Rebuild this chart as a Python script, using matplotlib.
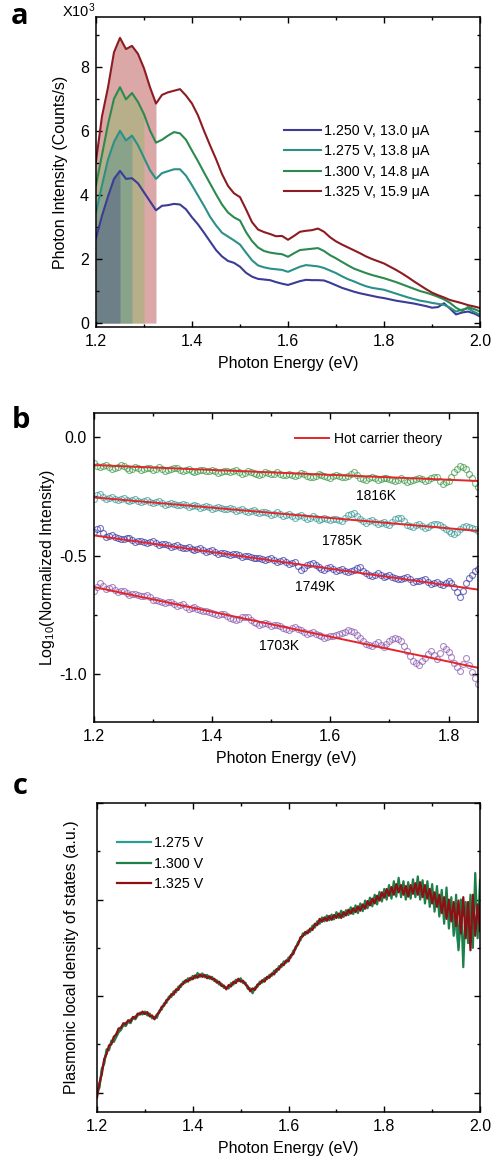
import numpy as np
import matplotlib.pyplot as plt
from matplotlib.ticker import MultipleLocator

plt.rcParams['font.family'] = ['Liberation Sans', 'DejaVu Sans']
plt.rcParams['axes.unicode_minus'] = False
plt.rcParams['mathtext.default'] = 'regular'

# ---------------- panel a: emission spectra ----------------
energy_a = np.linspace(1.2, 2.0, 65)
bias_labels = ['1.250 V, 13.0 \u03bcA', '1.275 V, 13.8 \u03bcA', '1.300 V, 14.8 \u03bcA', '1.325 V, 15.9 \u03bcA']
bias_volts = [1.250, 1.275, 1.300, 1.325]
int_1250 = [2.65, 3.35, 3.95, 4.50, 4.75, 4.50, 4.52, 4.36, 4.08, 3.80, 3.52, 3.66, 3.68, 3.72, 3.70, 3.55,
            3.30, 3.08, 2.82, 2.55, 2.28, 2.08, 1.94, 1.88, 1.76, 1.57, 1.45, 1.38, 1.36, 1.34, 1.28, 1.23,
            1.19, 1.25, 1.31, 1.35, 1.34, 1.34, 1.33, 1.26, 1.18, 1.10, 1.04, 0.98, 0.93, 0.89, 0.85, 0.81,
            0.78, 0.74, 0.70, 0.67, 0.64, 0.61, 0.57, 0.53, 0.48, 0.50, 0.62, 0.45, 0.27, 0.33, 0.36, 0.30, 0.21]
int_1275 = [3.45, 4.30, 5.10, 5.65, 6.00, 5.70, 5.85, 5.55, 5.16, 4.77, 4.50, 4.68, 4.74, 4.80, 4.80, 4.60,
            4.30, 3.98, 3.66, 3.32, 3.05, 2.82, 2.70, 2.58, 2.45, 2.20, 1.96, 1.80, 1.74, 1.70, 1.68, 1.66,
            1.60, 1.68, 1.76, 1.81, 1.79, 1.77, 1.72, 1.64, 1.56, 1.46, 1.37, 1.30, 1.22, 1.15, 1.10, 1.07,
            1.04, 0.98, 0.92, 0.86, 0.80, 0.75, 0.70, 0.67, 0.63, 0.60, 0.57, 0.48, 0.36, 0.42, 0.46, 0.35, 0.26]
int_1300 = [4.30, 5.25, 6.20, 7.00, 7.36, 6.98, 7.18, 6.90, 6.52, 6.01, 5.63, 5.72, 5.85, 5.96, 5.92, 5.72,
            5.38, 5.05, 4.70, 4.36, 4.02, 3.70, 3.45, 3.30, 3.20, 2.84, 2.56, 2.36, 2.25, 2.20, 2.17, 2.15,
            2.07, 2.18, 2.28, 2.30, 2.32, 2.34, 2.25, 2.12, 2.02, 1.91, 1.80, 1.70, 1.63, 1.56, 1.50, 1.45,
            1.40, 1.34, 1.28, 1.21, 1.14, 1.07, 1.00, 0.95, 0.89, 0.82, 0.74, 0.63, 0.48, 0.38, 0.50, 0.44, 0.36]
int_1325 = [5.05, 6.45, 7.35, 8.45, 8.90, 8.55, 8.65, 8.40, 7.95, 7.36, 6.85, 7.12, 7.20, 7.25, 7.30, 7.10,
            6.85, 6.48, 6.00, 5.55, 5.12, 4.65, 4.28, 4.05, 3.93, 3.55, 3.15, 2.92, 2.84, 2.78, 2.71, 2.72,
            2.60, 2.72, 2.85, 2.88, 2.90, 2.95, 2.85, 2.68, 2.55, 2.45, 2.36, 2.27, 2.18, 2.08, 2.00, 1.93,
            1.86, 1.76, 1.66, 1.55, 1.43, 1.30, 1.18, 1.06, 0.95, 0.87, 0.80, 0.72, 0.67, 0.62, 0.56, 0.52, 0.47]

# ---------------- panel b: log normalized intensity ----------------
energy_b = np.round(np.arange(1.2, 1.85001, 0.005), 3)
temps = ['1816K', '1785K', '1749K', '1703K']
log_1816 = [-0.110, -0.122, -0.128, -0.124, -0.118, -0.126, -0.135, -0.132, -0.128, -0.120, -0.122, -0.130,
            -0.138, -0.134, -0.126, -0.132, -0.140, -0.137, -0.130, -0.132, -0.138, -0.134, -0.128, -0.135,
            -0.142, -0.140, -0.135, -0.130, -0.130, -0.138, -0.144, -0.141, -0.136, -0.142, -0.148, -0.144,
            -0.138, -0.141, -0.146, -0.144, -0.140, -0.146, -0.152, -0.148, -0.142, -0.145, -0.150, -0.146,
            -0.140, -0.147, -0.155, -0.151, -0.145, -0.148, -0.152, -0.157, -0.160, -0.155, -0.148, -0.152,
            -0.158, -0.155, -0.150, -0.156, -0.162, -0.159, -0.155, -0.160, -0.165, -0.159, -0.152, -0.157,
            -0.163, -0.168, -0.170, -0.164, -0.158, -0.161, -0.165, -0.169, -0.172, -0.166, -0.160, -0.165,
            -0.170, -0.168, -0.165, -0.156, -0.150, -0.160, -0.172, -0.177, -0.180, -0.174, -0.168, -0.175,
            -0.182, -0.177, -0.172, -0.175, -0.178, -0.182, -0.185, -0.180, -0.175, -0.182, -0.190, -0.186,
            -0.182, -0.176, -0.172, -0.178, -0.185, -0.180, -0.175, -0.171, -0.168, -0.185, -0.198, -0.192,
            -0.185, -0.168, -0.150, -0.135, -0.125, -0.128, -0.135, -0.155, -0.175, -0.195, -0.210]
log_1785 = [-0.260, -0.245, -0.240, -0.252, -0.262, -0.259, -0.255, -0.262, -0.268, -0.263, -0.258, -0.264,
            -0.270, -0.266, -0.262, -0.269, -0.275, -0.271, -0.268, -0.274, -0.280, -0.276, -0.272, -0.279,
            -0.285, -0.283, -0.280, -0.284, -0.288, -0.285, -0.282, -0.289, -0.295, -0.291, -0.287, -0.293,
            -0.298, -0.295, -0.292, -0.297, -0.302, -0.299, -0.296, -0.301, -0.305, -0.303, -0.300, -0.306,
            -0.312, -0.308, -0.305, -0.312, -0.318, -0.314, -0.310, -0.315, -0.320, -0.318, -0.315, -0.322,
            -0.328, -0.323, -0.318, -0.325, -0.332, -0.328, -0.325, -0.333, -0.340, -0.335, -0.330, -0.338,
            -0.345, -0.340, -0.335, -0.343, -0.350, -0.345, -0.340, -0.346, -0.352, -0.348, -0.345, -0.350,
            -0.355, -0.342, -0.330, -0.324, -0.322, -0.332, -0.345, -0.355, -0.362, -0.356, -0.350, -0.360,
            -0.368, -0.364, -0.360, -0.366, -0.372, -0.358, -0.345, -0.340, -0.340, -0.355, -0.370, -0.376,
            -0.380, -0.372, -0.365, -0.376, -0.385, -0.378, -0.372, -0.368, -0.365, -0.372, -0.380, -0.388,
            -0.395, -0.403, -0.410, -0.400, -0.390, -0.380, -0.375, -0.378, -0.382, -0.388, -0.395]
log_1749 = [-0.400, -0.390, -0.385, -0.405, -0.420, -0.418, -0.415, -0.422, -0.428, -0.430, -0.432, -0.428,
            -0.425, -0.434, -0.442, -0.440, -0.438, -0.443, -0.448, -0.444, -0.440, -0.448, -0.455, -0.452,
            -0.450, -0.456, -0.462, -0.458, -0.455, -0.463, -0.470, -0.468, -0.465, -0.472, -0.478, -0.474,
            -0.470, -0.478, -0.485, -0.481, -0.478, -0.485, -0.492, -0.490, -0.488, -0.493, -0.498, -0.495,
            -0.492, -0.498, -0.505, -0.502, -0.500, -0.506, -0.512, -0.510, -0.508, -0.514, -0.520, -0.516,
            -0.512, -0.518, -0.525, -0.522, -0.520, -0.528, -0.535, -0.531, -0.528, -0.545, -0.560, -0.552,
            -0.540, -0.534, -0.530, -0.540, -0.550, -0.556, -0.560, -0.554, -0.548, -0.556, -0.565, -0.561,
            -0.558, -0.564, -0.570, -0.565, -0.560, -0.553, -0.550, -0.563, -0.575, -0.580, -0.585, -0.580,
            -0.575, -0.583, -0.590, -0.585, -0.580, -0.588, -0.595, -0.598, -0.600, -0.595, -0.590, -0.600,
            -0.610, -0.608, -0.605, -0.601, -0.598, -0.610, -0.620, -0.616, -0.612, -0.618, -0.625, -0.615,
            -0.605, -0.615, -0.630, -0.655, -0.675, -0.650, -0.615, -0.595, -0.580, -0.565, -0.555]
log_1703 = [-0.650, -0.630, -0.615, -0.628, -0.640, -0.636, -0.632, -0.645, -0.655, -0.651, -0.648, -0.657,
            -0.665, -0.662, -0.660, -0.666, -0.672, -0.668, -0.665, -0.676, -0.685, -0.688, -0.690, -0.695,
            -0.700, -0.697, -0.695, -0.704, -0.712, -0.708, -0.705, -0.716, -0.725, -0.721, -0.718, -0.723,
            -0.728, -0.732, -0.735, -0.739, -0.742, -0.745, -0.748, -0.746, -0.745, -0.754, -0.762, -0.766,
            -0.770, -0.765, -0.760, -0.759, -0.758, -0.769, -0.780, -0.785, -0.790, -0.786, -0.782, -0.789,
            -0.795, -0.792, -0.790, -0.798, -0.805, -0.809, -0.812, -0.806, -0.800, -0.808, -0.815, -0.822,
            -0.828, -0.825, -0.822, -0.829, -0.835, -0.840, -0.845, -0.843, -0.840, -0.838, -0.835, -0.830,
            -0.825, -0.820, -0.815, -0.816, -0.820, -0.832, -0.845, -0.858, -0.870, -0.875, -0.880, -0.872,
            -0.865, -0.875, -0.885, -0.873, -0.860, -0.852, -0.845, -0.850, -0.860, -0.880, -0.900, -0.922,
            -0.945, -0.953, -0.960, -0.945, -0.930, -0.915, -0.900, -0.918, -0.935, -0.908, -0.880, -0.892,
            -0.905, -0.928, -0.950, -0.968, -0.985, -0.958, -0.930, -0.960, -0.990, -1.015, -1.040]
fit_start = [-0.119, -0.255, -0.415, -0.632]
fit_end = [-0.186, -0.396, -0.643, -0.972]
label_pos = [(1.678, -0.248), (1.619, -0.440), (1.574, -0.632), (1.513, -0.881)]

# ---------------- panel c: plasmonic LDOS ----------------
energy_c = np.linspace(1.2, 2.0, 161)
ldos_1275 = [-0.05, 0.15, 0.45, 0.65, 0.85, 0.92, 1.05, 1.10, 1.22, 1.28, 1.36, 1.40, 1.45, 1.46, 1.52, 1.53,
             1.58, 1.61, 1.64, 1.65, 1.64, 1.63, 1.60, 1.57, 1.54, 1.58, 1.68, 1.75, 1.83, 1.89, 1.96, 2.01,
             2.07, 2.11, 2.17, 2.22, 2.27, 2.31, 2.34, 2.36, 2.38, 2.40, 2.42, 2.43, 2.43, 2.42, 2.40, 2.39,
             2.37, 2.34, 2.31, 2.27, 2.24, 2.20, 2.17, 2.20, 2.24, 2.28, 2.31, 2.33, 2.33, 2.30, 2.26, 2.19,
             2.13, 2.13, 2.16, 2.22, 2.27, 2.31, 2.34, 2.38, 2.41, 2.45, 2.49, 2.54, 2.59, 2.63, 2.68, 2.72,
             2.77, 2.84, 2.91, 3.01, 3.10, 3.19, 3.27, 3.31, 3.34, 3.37, 3.42, 3.47, 3.52, 3.56, 3.59, 3.60,
             3.61, 3.62, 3.63, 3.64, 3.66, 3.67, 3.68, 3.70, 3.72, 3.74, 3.76, 3.78, 3.80, 3.82, 3.84, 3.85,
             3.87, 3.90, 3.93, 3.95, 3.98, 4.00, 4.04, 4.07, 4.10, 4.13, 4.15, 4.17, 4.20, 4.22, 4.24, 4.22,
             4.21, 4.19, 4.18, 4.20, 4.22, 4.23, 4.24, 4.22, 4.20, 4.18, 4.15, 4.10, 4.06, 4.04, 4.00, 3.95,
             3.90, 3.88, 3.84, 3.80, 3.75, 3.60, 3.40, 3.00, 3.50, 3.80, 3.60, 3.70, 3.55, 3.75, 3.60, 3.70, 3.55]
ldos_1300 = [0.05, 0.10, 0.50, 0.60, 0.90, 0.88, 1.08, 1.05, 1.15, 1.25, 1.30, 1.40, 1.38, 1.47, 1.44, 1.55,
             1.52, 1.60, 1.66, 1.62, 1.68, 1.60, 1.64, 1.54, 1.57, 1.55, 1.70, 1.72, 1.85, 1.86, 1.99, 1.98,
             2.10, 2.08, 2.20, 2.19, 2.30, 2.28, 2.37, 2.33, 2.42, 2.37, 2.48, 2.40, 2.47, 2.39, 2.44, 2.36,
             2.40, 2.31, 2.33, 2.24, 2.26, 2.17, 2.18, 2.16, 2.27, 2.24, 2.34, 2.31, 2.37, 2.27, 2.28, 2.15,
             2.16, 2.06, 2.18, 2.19, 2.30, 2.28, 2.37, 2.35, 2.44, 2.42, 2.53, 2.50, 2.62, 2.60, 2.72, 2.69,
             2.80, 2.80, 2.94, 2.98, 3.12, 3.16, 3.30, 3.27, 3.36, 3.33, 3.46, 3.42, 3.55, 3.50, 3.63, 3.55,
             3.67, 3.57, 3.69, 3.59, 3.74, 3.62, 3.77, 3.64, 3.78, 3.68, 3.84, 3.70, 3.88, 3.72, 3.92, 3.76,
             3.98, 3.82, 4.04, 3.86, 4.10, 3.90, 4.16, 3.96, 4.22, 4.00, 4.30, 4.02, 4.38, 4.06, 4.45, 4.05,
             4.38, 4.00, 4.36, 4.02, 4.42, 4.05, 4.48, 4.00, 4.40, 3.92, 4.38, 3.85, 4.32, 3.75, 4.28, 3.65,
             4.20, 3.50, 4.25, 3.40, 4.05, 3.25, 4.10, 2.95, 4.00, 2.60, 3.95, 3.10, 4.10, 3.00, 4.55, 3.20, 4.40]
ldos_1325 = [-0.10, 0.20, 0.38, 0.70, 0.80, 0.98, 1.00, 1.16, 1.20, 1.33, 1.34, 1.44, 1.42, 1.50, 1.47, 1.57,
             1.55, 1.64, 1.62, 1.68, 1.63, 1.67, 1.58, 1.60, 1.52, 1.62, 1.66, 1.78, 1.80, 1.92, 1.94, 2.04,
             2.03, 2.14, 2.13, 2.24, 2.25, 2.33, 2.30, 2.38, 2.35, 2.43, 2.38, 2.45, 2.40, 2.44, 2.37, 2.41,
             2.35, 2.36, 2.28, 2.30, 2.21, 2.22, 2.14, 2.23, 2.20, 2.30, 2.27, 2.36, 2.30, 2.32, 2.24, 2.20,
             2.10, 2.16, 2.13, 2.24, 2.25, 2.33, 2.30, 2.40, 2.38, 2.47, 2.45, 2.56, 2.55, 2.66, 2.64, 2.74,
             2.72, 2.85, 2.87, 3.02, 3.07, 3.22, 3.24, 3.33, 3.30, 3.40, 3.37, 3.50, 3.47, 3.60, 3.54, 3.63,
             3.56, 3.66, 3.58, 3.68, 3.62, 3.71, 3.62, 3.74, 3.67, 3.79, 3.71, 3.82, 3.74, 3.86, 3.77, 3.90,
             3.81, 3.97, 3.88, 4.02, 3.92, 4.08, 3.98, 4.15, 4.04, 4.22, 4.08, 4.26, 4.10, 4.32, 4.15, 4.30,
             4.10, 4.28, 4.06, 4.30, 4.12, 4.34, 4.10, 4.36, 4.05, 4.30, 4.02, 4.22, 3.92, 4.15, 3.85, 4.10,
             3.72, 4.05, 3.60, 4.00, 3.55, 3.95, 3.45, 3.98, 3.30, 4.05, 3.20, 3.95, 2.95, 4.10, 3.25, 3.90, 3.35]
ldos_labels = ['1.275 V', '1.300 V', '1.325 V']

line_colors = ['#3a3c96', '#2a9088', '#2b8a4e', '#8c1c22']
fill_colors = ['#444a82', '#45928f', '#82bc5d', '#a72525']
dot_colors = ['#3f9a4a', '#3a9a98', '#3a3aa8', '#8a5cb0']
ldos_colors = ['#2f9c92', '#1d8048', '#8c1014']


def style_axes(ax):
    for s in ax.spines.values():
        s.set_linewidth(1.1)
    ax.tick_params(which='both', direction='in', top=True, right=True, width=1.0, labelsize=11.5, pad=5)
    ax.tick_params(which='major', length=4.5)
    ax.tick_params(which='minor', length=2.5)


fig = plt.figure(figsize=(4.93, 11.66), dpi=100)

# panel a
ax1 = fig.add_axes([0.1947, 0.7196, 0.779, 0.2658])
curves = [int_1250, int_1275, int_1300, int_1325]
for k in [3, 2, 1, 0]:
    y = np.array(curves[k])
    mask = energy_a <= bias_volts[k] + 1e-9
    ax1.fill_between(energy_a[mask], 0, y[mask], color=fill_colors[k], alpha=0.4, lw=0)
for k in range(4):
    ax1.plot(energy_a, curves[k], color=line_colors[k], lw=1.5, label=bias_labels[k])
ax1.set_xlim(1.2, 2.0)
ax1.set_ylim(-0.12, 9.55)
ax1.xaxis.set_major_locator(MultipleLocator(0.2))
ax1.xaxis.set_minor_locator(MultipleLocator(0.1))
ax1.yaxis.set_major_locator(MultipleLocator(2))
ax1.yaxis.set_minor_locator(MultipleLocator(1))
ax1.xaxis.set_major_formatter(plt.FuncFormatter(lambda v, p: '%.1f' % v))
style_axes(ax1)
ax1.set_xlabel('Photon Energy (eV)', fontsize=11.5, labelpad=5)
ax1.set_ylabel('Photon Intensity (Counts/s)', fontsize=11.5, labelpad=9)
ax1.legend(loc='upper left', bbox_to_anchor=(0.49, 0.655), frameon=False, fontsize=10.3,
           handlelength=2.6, handletextpad=0.2, labelspacing=0.45, borderpad=0, borderaxespad=0)
fig.text(62 / 493, 1 - 11 / 1166, 'X10$^3$', fontsize=10.5, va='center', ha='left')

# panel b
ax2 = fig.add_axes([0.1907, 0.3808, 0.779, 0.265])
logs = [log_1816, log_1785, log_1749, log_1703]
for k in range(4):
    ax2.plot(energy_b, logs[k], ls='none', marker='o', ms=4.3, mfc='none', mec=dot_colors[k],
             mew=0.8, alpha=0.7)
for k in range(4):
    ax2.plot([1.2, 1.85], [fit_start[k], fit_end[k]], color='#e3262b', lw=1.4,
             label='Hot carrier theory' if k == 0 else None)
    ax2.text(label_pos[k][0], label_pos[k][1], temps[k], fontsize=10, ha='center', va='center')
ax2.set_xlim(1.2, 1.85)
ax2.set_ylim(-1.2, 0.1)
ax2.xaxis.set_major_locator(MultipleLocator(0.2))
ax2.xaxis.set_minor_locator(MultipleLocator(0.1))
ax2.yaxis.set_major_locator(MultipleLocator(0.5))
ax2.yaxis.set_minor_locator(MultipleLocator(0.25))
ax2.xaxis.set_major_formatter(plt.FuncFormatter(lambda v, p: '%.1f' % v))
ax2.yaxis.set_major_formatter(plt.FuncFormatter(lambda v, p: '%.1f' % v))
style_axes(ax2)
ax2.set_xlabel('Photon Energy (eV)', fontsize=11.5, labelpad=5)
ax2.set_ylabel('Log$_{10}$(Normalized Intensity)', fontsize=11.5, labelpad=2)
ax2.legend(loc='upper left', bbox_to_anchor=(0.524, 0.94), frameon=False, fontsize=10,
           handlelength=2.4, handletextpad=0.4, borderpad=0, borderaxespad=0)

# panel c
ax3 = fig.add_axes([0.1968, 0.0463, 0.7769, 0.265])
ldos = [ldos_1275, ldos_1300, ldos_1325]
for k in range(3):
    ax3.plot(energy_c, ldos[k], color=ldos_colors[k], lw=1.6, label=ldos_labels[k])
ax3.set_xlim(1.2, 2.0)
ax3.set_ylim(-0.4, 6.0)
ax3.xaxis.set_major_locator(MultipleLocator(0.2))
ax3.xaxis.set_minor_locator(MultipleLocator(0.1))
ax3.yaxis.set_major_locator(MultipleLocator(2))
ax3.yaxis.set_minor_locator(MultipleLocator(1))
ax3.xaxis.set_major_formatter(plt.FuncFormatter(lambda v, p: '%.1f' % v))
style_axes(ax3)
ax3.set_yticklabels([])
ax3.set_xlabel('Photon Energy (eV)', fontsize=11.5, labelpad=5)
ax3.set_ylabel('Plasmonic local density of states (a.u.)', fontsize=11.5, labelpad=8)
ax3.legend(loc='upper left', bbox_to_anchor=(0.052, 0.893), frameon=False, fontsize=10.3,
           handlelength=2.4, handletextpad=0.2, labelspacing=0.45, borderpad=0, borderaxespad=0)

for lab, (px, py) in zip(['a', 'b', 'c'], [(20, 17), (21, 420), (20, 786)]):
    fig.text(px / 493, 1 - py / 1166, lab, fontsize=21, fontweight='bold', family='Open Sans',
             ha='center', va='center')

fig.savefig('out.png', dpi=100)
